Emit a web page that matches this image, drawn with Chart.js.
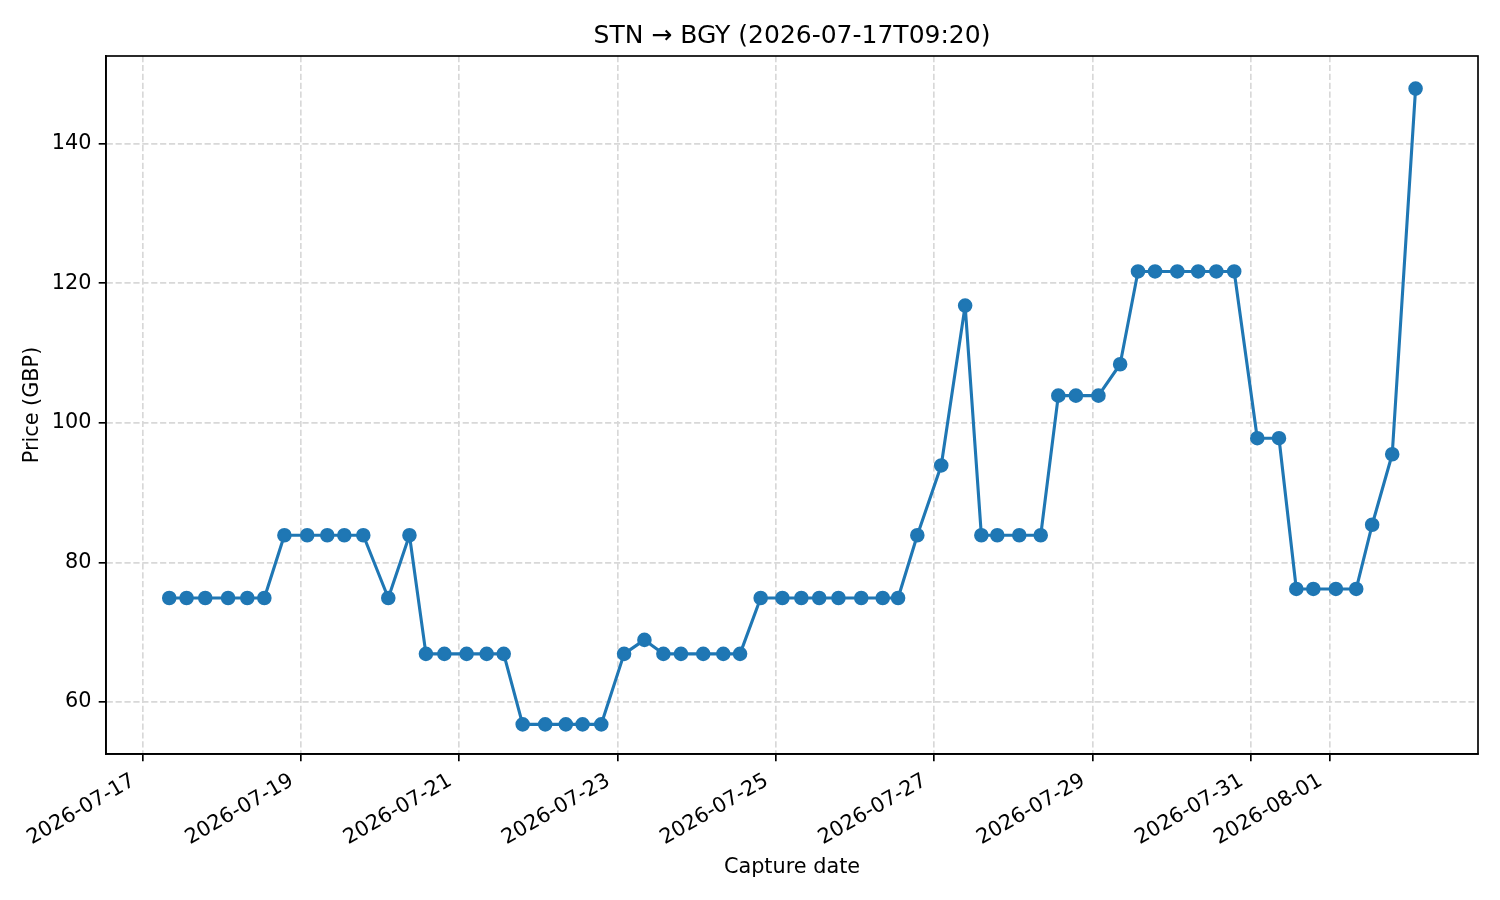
<!DOCTYPE html>
<html>
<head>
<meta charset="utf-8">
<title>STN → BGY</title>
<script src="https://cdn.jsdelivr.net/npm/chart.js@4.4.1/dist/chart.umd.min.js"></script>
<style>
  html, body { margin: 0; padding: 0; background: #fff; }
  #chart { display: block; }
</style>
</head>
<body>
<canvas id="chart" width="1500" height="900"></canvas>
<script>
/* ---- data ---- */
const captureTimes = [
    "2026-07-17T08:05", "2026-07-17T13:20", "2026-07-17T19:00", "2026-07-18T01:55",
    "2026-07-18T07:45", "2026-07-18T12:55", "2026-07-18T19:00", "2026-07-19T01:55",
    "2026-07-19T08:00", "2026-07-19T13:10", "2026-07-19T18:55", "2026-07-20T02:30",
    "2026-07-20T08:55", "2026-07-20T13:55", "2026-07-20T19:30", "2026-07-21T02:15",
    "2026-07-21T08:20", "2026-07-21T13:30", "2026-07-21T19:15", "2026-07-22T02:05",
    "2026-07-22T08:20", "2026-07-22T13:25", "2026-07-22T19:05", "2026-07-23T02:00",
    "2026-07-23T08:10", "2026-07-23T13:55", "2026-07-23T19:15", "2026-07-24T02:00",
    "2026-07-24T08:05", "2026-07-24T13:10", "2026-07-24T19:25", "2026-07-25T02:00",
    "2026-07-25T07:45", "2026-07-25T13:10", "2026-07-25T19:00", "2026-07-26T01:55",
    "2026-07-26T08:25", "2026-07-26T13:05", "2026-07-26T18:55", "2026-07-27T02:10",
    "2026-07-27T09:25", "2026-07-27T14:20", "2026-07-27T19:10", "2026-07-28T01:50",
    "2026-07-28T08:20", "2026-07-28T13:40", "2026-07-28T19:00", "2026-07-29T01:50",
    "2026-07-29T08:25", "2026-07-29T13:50", "2026-07-29T19:00", "2026-07-30T01:45",
    "2026-07-30T08:05", "2026-07-30T13:35", "2026-07-30T19:00", "2026-07-31T02:00",
    "2026-07-31T08:35", "2026-07-31T13:50", "2026-07-31T19:00", "2026-08-01T01:50",
    "2026-08-01T08:00", "2026-08-01T12:50", "2026-08-01T18:55", "2026-08-02T02:00"
];
const prices = [
    74.9, 74.9, 74.9, 74.9, 74.9, 74.9, 83.9, 83.9,
    83.9, 83.9, 83.9, 74.9, 83.9, 66.9, 66.9, 66.9,
    66.9, 66.9, 56.8, 56.8, 56.8, 56.8, 56.8, 66.9,
    68.9, 66.9, 66.9, 66.9, 66.9, 66.9, 74.9, 74.9,
    74.9, 74.9, 74.9, 74.9, 74.9, 74.9, 83.9, 93.9,
    116.8, 83.9, 83.9, 83.9, 83.9, 103.9, 103.9, 103.9,
    108.4, 121.7, 121.7, 121.7, 121.7, 121.7, 121.7, 97.8,
    97.8, 76.2, 76.2, 76.2, 76.2, 85.4, 95.5, 147.9
];
const xTickDates = [
    "2026-07-17", "2026-07-19", "2026-07-21", "2026-07-23", "2026-07-25",
    "2026-07-27", "2026-07-29", "2026-07-31", "2026-08-01"
];
const yTicks = [60, 80, 100, 120, 140];

const chartTitle = "STN → BGY (2026-07-17T09:20)";
const xTitle = "Capture date";
const yTitle = "Price (GBP)";

/* ---- helpers: x axis is "days since 2026-07-17" (no date adapter offline) ---- */
const DAY = 86400000;
const ORIGIN = Date.UTC(2026, 6, 17);
function toDays(s) {
    const t = s.length > 10 ? s + ":00Z" : s + "T00:00:00Z";
    return (Date.parse(t) - ORIGIN) / DAY;
}
function dayLabel(v) {
    return new Date(ORIGIN + v * DAY).toISOString().slice(0, 10);
}

const FONT = "'DejaVu Sans', 'Liberation Sans', sans-serif";
const BLUE = "#1f77b4";
const GRID = "#d8d8d8";

const points = captureTimes.map((t, i) => ({ x: toDays(t), y: prices[i] }));

// full box round the plot, like matplotlib spines
const framePlugin = {
    id: "frame",
    afterDatasetsDraw(chart) {
        const a = chart.chartArea;
        const ctx = chart.ctx;
        ctx.save();
        ctx.strokeStyle = "#000";
        ctx.lineWidth = 1.67;
        ctx.strokeRect(a.left, a.top, a.right - a.left, a.bottom - a.top);
        ctx.restore();
    }
};

new Chart(document.getElementById("chart"), {
    type: "line",
    data: {
        datasets: [{
            label: "price",
            data: points,
            borderColor: BLUE,
            backgroundColor: BLUE,
            borderWidth: 3.1,
            borderJoinStyle: "round",
            pointRadius: 6.25,
            pointBorderWidth: 2.08,
            pointBorderColor: BLUE,
            pointBackgroundColor: BLUE,
            tension: 0,
            fill: false,
        }],
    },
    options: {
        responsive: false,
        animation: false,
        devicePixelRatio: 1,
        layout: { padding: { left: 0, right: 22, top: 0, bottom: 0 } },
        plugins: {
            legend: { display: false },
            tooltip: { enabled: false },
            title: {
                display: true,
                text: chartTitle,
                color: "#000",
                fullSize: false,
                font: { family: FONT, size: 25, weight: "normal" },
                padding: { top: 21.8, bottom: 4.2 },
            },
        },
        scales: {
            x: {
                type: "linear",
                min: -0.4624,
                max: 16.872,
                afterFit(scale) { scale.height = 146; },
                afterBuildTicks(scale) {
                    scale.ticks = xTickDates.map((d) => ({ value: toDays(d) }));
                },
                grid: {
                    color: GRID,
                    lineWidth: 1.67,
                    tickLength: 7.3,
                    tickColor: "#000",
                    tickWidth: 1.67,
                },
                border: { display: true, color: "#000", width: 1.67, dash: [6.2, 2.7] },
                ticks: {
                    color: "#000",
                    font: { family: FONT, size: 20.8 },
                    padding: 7.3,
                    minRotation: 30,
                    maxRotation: 30,
                    autoSkip: false,
                    labelOffset: -9,
                    callback: (v) => dayLabel(v),
                },
                title: {
                    display: true,
                    text: xTitle,
                    color: "#000",
                    font: { family: FONT, size: 20.8 },
                    padding: { top: 0, bottom: 20 },
                },
            },
            y: {
                type: "linear",
                min: 52.55,
                max: 152.57,
                afterFit(scale) { scale.width = 106; },
                afterBuildTicks(scale) {
                    scale.ticks = yTicks.map((v) => ({ value: v }));
                },
                grid: {
                    color: GRID,
                    lineWidth: 1.67,
                    tickLength: 7.3,
                    tickColor: "#000",
                    tickWidth: 1.67,
                },
                border: { display: true, color: "#000", width: 1.67, dash: [6.2, 2.7] },
                ticks: {
                    color: "#000",
                    font: { family: FONT, size: 20.8 },
                    padding: 7.3,
                },
                title: {
                    display: true,
                    text: yTitle,
                    color: "#000",
                    font: { family: FONT, size: 20.8 },
                    padding: { top: 20.5, bottom: 0 },
                },
            },
        },
    },
    plugins: [framePlugin],
});
</script>
</body>
</html>
